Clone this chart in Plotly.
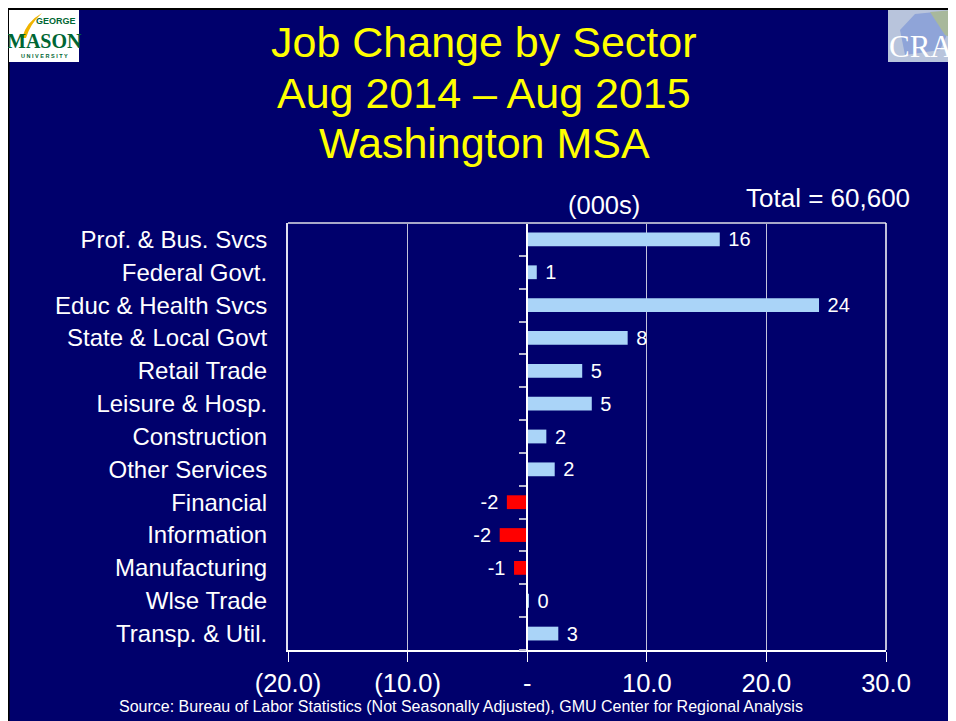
import plotly.graph_objects as go

# job change by sector, thousands (Aug 2014 - Aug 2015)
sectors = ["Prof. & Bus. Svcs", "Federal Govt.", "Educ & Health Svcs", "State & Local Govt",
           "Retail Trade", "Leisure & Hosp.", "Construction", "Other Services",
           "Financial", "Information", "Manufacturing", "Wlse Trade", "Transp. & Util."]
change = [16.1, 0.8, 24.4, 8.4, 4.6, 5.4, 1.6, 2.3, -1.7, -2.3, -1.1, 0.1, 2.6]

x_ticks = [-20, -10, 0, 10, 20, 30]
x_tick_text = ["(20.0)", "(10.0)", "-", "10.0", "20.0", "30.0"]

# the page body keeps an 8px margin, which gives the white slide frame
OFF = 8
W, H = 956 - OFF, 721 - OFF
L, T = 288 - OFF, 223 - OFF
R, B = W - (886 - OFF), H - (650 - OFF)
NAVY = "#00006c"
FONT = "Arial, Liberation Sans, sans-serif"


def px(x):  # page pixel -> paper x
    return (x - OFF - L) / (W - L - R)


def py(y):  # page pixel -> paper y
    return (H - B - (y - OFF)) / (H - T - B)


colors = ["#ff0000" if v < 0 else "#aad4f8" for v in change]
templates = ["%{x:.0f}\u00a0" if v < 0 else "\u00a0%{x:.0f}" for v in change]

fig = go.Figure()
fig.add_trace(go.Bar(
    y=sectors, x=change, orientation="h",
    marker=dict(color=colors, line=dict(width=0)),
    width=0.42,
    texttemplate=templates, textposition="outside",
    textfont=dict(color="white", size=20, family=FONT),
    constraintext="none", cliponaxis=False,
    hoverinfo="skip",
))
# invisible points so the zero axis (yaxis2) gets drawn
fig.add_trace(go.Scatter(
    x=[0] * len(sectors), y=list(range(len(sectors))), yaxis="y2",
    mode="markers", marker=dict(opacity=0), hoverinfo="skip",
))

fig.update_layout(
    width=W, height=H,
    margin=dict(l=L, r=R, t=T, b=B),
    paper_bgcolor=NAVY, plot_bgcolor=NAVY,
    showlegend=False,
    font=dict(family=FONT, color="white"),
    xaxis=dict(range=[-20, 30], tickvals=x_ticks, ticktext=x_tick_text,
               showgrid=True, gridcolor="#c4c4dc", gridwidth=1,
               zeroline=True, zerolinecolor="white", zerolinewidth=1.5,
               showline=True, linecolor="white", linewidth=1.5,
               ticks="outside", ticklen=10, tickcolor="white", tickwidth=1,
               tickfont=dict(size=25.5, color="white"), fixedrange=True),
    yaxis=dict(type="category", range=[12.5, -0.5], showgrid=False,
               showline=True, linecolor="#e0e0f0", linewidth=2, ticks="",
               ticklabelstandoff=14, tickfont=dict(size=24, color="white"),
               fixedrange=True),
    # axis at zero with the category separator ticks
    yaxis2=dict(overlaying="y", anchor="free", position=0.4, side="left",
                range=[12.5, -0.5], tickvals=[k + 0.5 for k in range(-1, 13)],
                showticklabels=False, showgrid=False, zeroline=False,
                showline=True, linecolor="white", linewidth=1.5,
                ticks="outside", ticklen=7, tickcolor="#b8b8d0", tickwidth=1.5,
                fixedrange=True),
)

shapes = [
    # plot box top and right edges
    dict(type="line", xref="paper", yref="paper", x0=0, x1=1, y0=1, y1=1,
         line=dict(color="#a8a8c8", width=2)),
    dict(type="line", xref="paper", yref="paper", x0=1, x1=1, y0=0, y1=1,
         line=dict(color="white", width=1.5)),
    # black slide frame lines
    dict(type="rect", xref="paper", yref="paper", x0=px(8), x1=px(9.5), y0=py(721), y1=py(8),
         fillcolor="black", line=dict(width=0)),
    dict(type="rect", xref="paper", yref="paper", x0=px(8), x1=px(956), y0=py(10), y1=py(8),
         fillcolor="black", line=dict(width=0)),
    # GMU logo box
    dict(type="rect", xref="paper", yref="paper", x0=px(9), x1=px(79), y0=py(62), y1=py(10),
         fillcolor="white", line=dict(width=0)),
    dict(type="path", xref="paper", yref="paper",
         path=f"M {px(22)},{py(38)} Q {px(26)},{py(22)} {px(42)},{py(13)} "
              f"Q {px(30)},{py(24)} {px(26)},{py(38)} Z",
         fillcolor="#f0b400", line=dict(width=0)),
    # CRA logo box
    dict(type="rect", xref="paper", yref="paper", x0=px(888), x1=px(956), y0=py(62), y1=py(10),
         fillcolor="#b8c4dc", line=dict(width=0)),
    dict(type="path", xref="paper", yref="paper",
         path=f"M {px(900)},{py(30)} L {px(915)},{py(14)} L {px(935)},{py(12)} "
              f"L {px(950)},{py(28)} L {px(940)},{py(50)} L {px(905)},{py(55)} Z",
         fillcolor="#8fa4d8", line=dict(width=0)),
    dict(type="path", xref="paper", yref="paper",
         path=f"M {px(930)},{py(12)} L {px(956)},{py(10)} L {px(956)},{py(40)} "
              f"L {px(945)},{py(35)} Z",
         fillcolor="#a8b89c", line=dict(width=0)),
]

annotations = []
title_lines = ["Job Change by Sector", "Aug 2014 \u2013 Aug 2015", "Washington MSA"]
for i, line in enumerate(title_lines):
    annotations.append(dict(text=line, xref="paper", yref="paper", x=px(484), y=py(42 + 50.5 * i),
                            xanchor="center", yanchor="middle", showarrow=False,
                            font=dict(size=43, color="#ffff00", family=FONT)))

annotations += [
    dict(text="(000s)", xref="paper", yref="paper", x=px(604), y=py(205),
         xanchor="center", yanchor="middle", showarrow=False,
         font=dict(size=25.5, color="white", family=FONT)),
    dict(text="Total = 60,600", xref="paper", yref="paper", x=px(828), y=py(198),
         xanchor="center", yanchor="middle", showarrow=False,
         font=dict(size=26, color="white", family=FONT)),
    dict(text="Source: Bureau of Labor Statistics (Not Seasonally Adjusted), GMU Center for Regional Analysis",
         xref="paper", yref="paper", x=px(461), y=py(706),
         xanchor="center", yanchor="middle", showarrow=False,
         font=dict(size=16, color="white", family=FONT)),
    # logos as text
    dict(text="<b>GEORGE</b>", xref="paper", yref="paper", x=px(78), y=py(21),
         xanchor="right", yanchor="middle", showarrow=False,
         font=dict(size=9, color="#006633", family=FONT)),
    dict(text="<b>MASON</b>", xref="paper", yref="paper", x=px(44), y=py(41),
         xanchor="center", yanchor="middle", showarrow=False,
         font=dict(size=20, color="#006633", family="Liberation Serif, serif")),
    dict(text="<b>U N I V E R S I T Y</b>", xref="paper", yref="paper", x=px(44), y=py(56),
         xanchor="center", yanchor="middle", showarrow=False,
         font=dict(size=5.5, color="#006633", family=FONT)),
    dict(text="CRA", xref="paper", yref="paper", x=px(955), y=py(46),
         xanchor="right", yanchor="middle", showarrow=False,
         font=dict(size=31, color="white", family="Liberation Serif, serif")),
]

fig.update_layout(shapes=shapes, annotations=annotations)

fig.write_html("out.html")
